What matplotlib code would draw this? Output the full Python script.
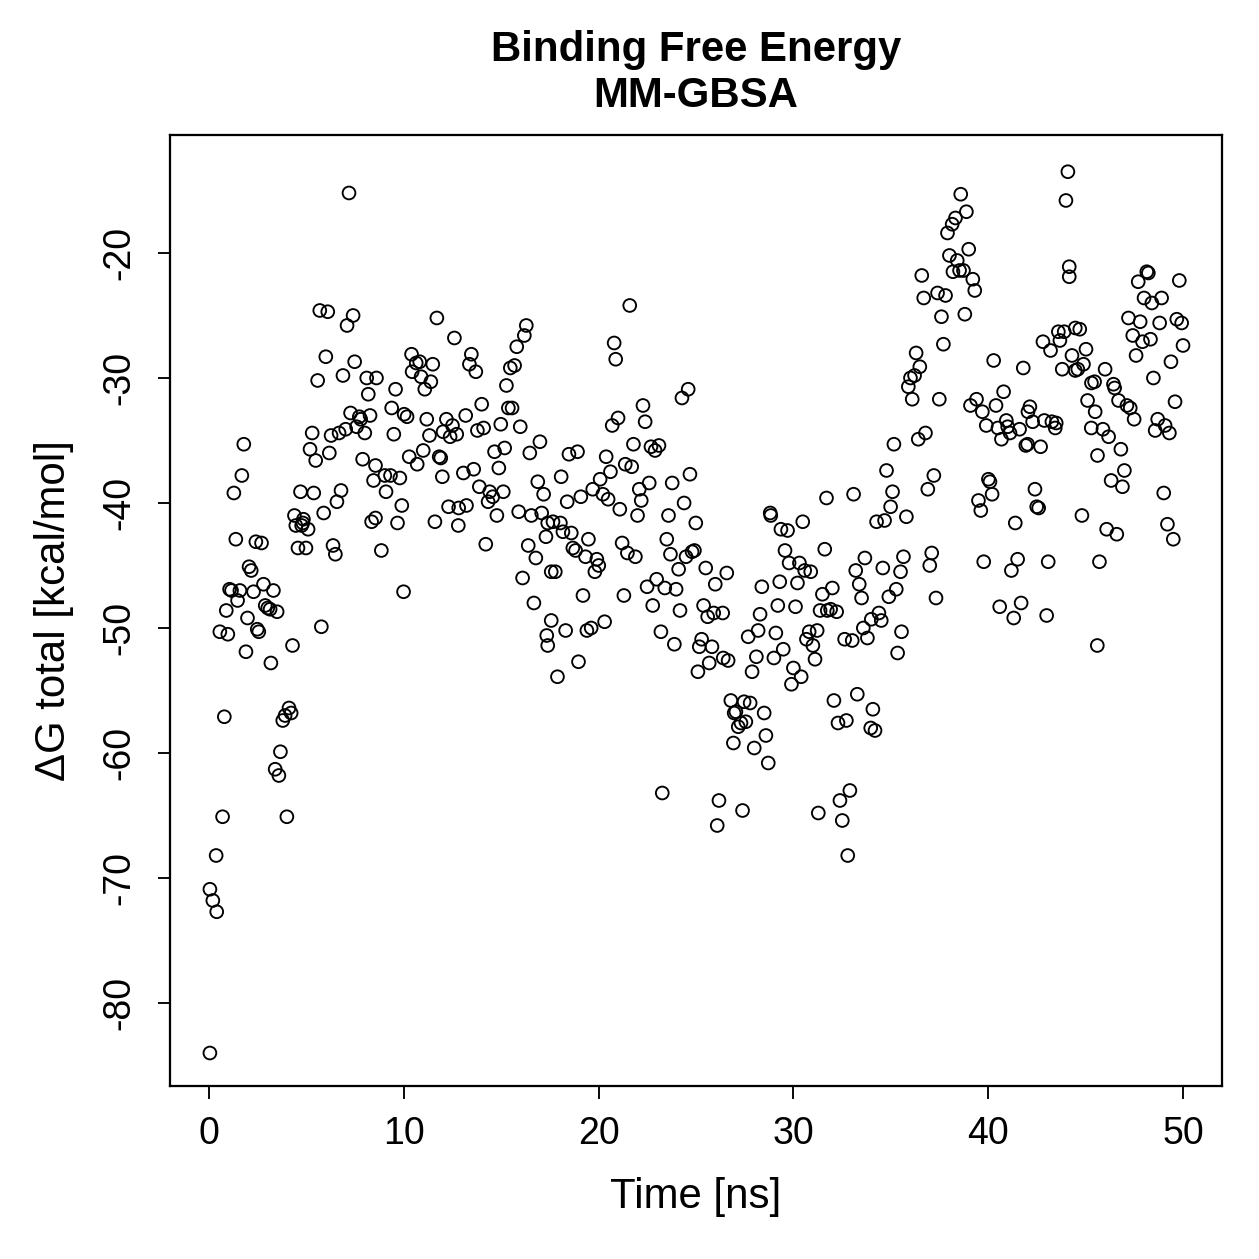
import numpy as np
import matplotlib
matplotlib.use("Agg")
import matplotlib.pyplot as plt

plt.rcParams['font.family'] = ['Liberation Sans', 'DejaVu Sans']

# data ──────────────────────────────────────────────────────────────────
time_ns = [
    0.05, 0.05, 0.2, 0.4, 0.37, 0.7, 0.79, 0.56, 0.97, 0.89, 1.06, 1.16, 1.28, 1.38, 1.47, 1.59,
    1.69, 1.79, 1.9, 1.98, 2.06, 2.17, 2.29, 2.41, 2.48, 2.56, 2.7, 2.8, 2.89, 3.02, 3.14, 3.18,
    3.31, 3.4, 3.5, 3.59, 3.67, 3.79, 3.91, 4.0, 4.11, 4.22, 4.29, 4.39, 4.46, 4.57, 4.7, 4.76,
    4.82, 4.85, 4.98, 5.09, 5.19, 5.3, 5.38, 5.48, 5.58, 5.69, 5.77, 5.89, 6.0, 6.1, 6.18, 6.27,
    6.37, 6.49, 6.57, 6.68, 6.78, 6.88, 7.02, 7.09, 7.19, 7.27, 7.4, 7.48, 7.58, 7.72, 7.79, 7.89,
    8.0, 8.1, 8.18, 8.27, 8.35, 8.45, 8.55, 8.6, 8.85, 8.55,
    9.03, 9.09, 9.32, 9.38, 9.49, 9.58, 9.68, 9.8, 9.9, 9.99, 10.02, 10.17, 10.28, 10.4, 10.43,
    10.64, 10.69, 10.82, 10.89, 11.0, 11.08, 11.18, 11.32, 11.39, 11.49, 11.6, 11.7, 11.82, 11.9,
    11.98, 12.02, 12.19, 12.3, 12.38, 12.5, 12.6, 12.72, 12.8, 12.82, 13.06, 13.18, 13.22, 13.37,
    13.47, 13.59, 13.7, 13.78, 13.88, 14.0, 14.1, 14.21, 14.33, 14.41, 14.57, 14.66, 14.78, 14.88,
    14.98, 15.11, 15.18, 15.27, 15.37, 15.47, 15.56, 15.69, 15.8, 15.9, 15.98, 16.1, 16.19, 16.29,
    16.39, 16.47, 16.55, 16.68, 16.78, 16.88, 16.99, 17.08, 17.18, 17.3, 17.34, 17.39, 17.39,
    17.57, 17.57, 17.66, 17.78, 17.89, 18.04, 18.08, 18.17, 18.31, 18.39, 18.48, 18.6, 18.68,
    18.82, 18.92, 18.97, 19.09, 19.2, 19.33, 19.4, 19.48, 19.62, 19.7, 19.81, 19.91, 20.01, 20.08,
    20.22, 20.31, 20.39, 20.49, 20.61, 20.7, 20.8, 20.88, 21.0, 21.09, 21.21, 21.3, 21.37, 21.48,
    21.6, 21.7, 21.79, 21.89, 22.0, 22.09, 22.19, 22.28, 22.39, 22.49, 22.6, 22.69, 22.78, 22.9,
    22.98, 23.1, 23.2, 23.27, 23.4, 23.5, 23.59, 23.69, 23.78, 23.89, 23.98, 24.11, 24.18, 24.28,
    24.39, 24.49, 24.6, 24.69, 24.8, 24.92, 24.99, 25.1, 25.17, 25.29, 25.39, 25.5, 25.6, 25.68,
    25.82, 25.91, 25.99, 26.09, 26.18, 26.4, 26.37, 26.65, 26.58,
    26.79, 26.92, 26.96, 27.05, 27.17, 27.31, 27.39, 27.47, 27.56, 27.68, 27.78, 27.88, 27.99,
    28.1, 28.19, 28.29, 28.38, 28.5, 28.59, 28.71, 28.81, 28.84, 29.0, 29.1, 29.2, 29.3, 29.36,
    29.48, 29.57, 29.7, 29.78, 29.9, 30.0, 30.11, 30.21, 30.31, 30.4, 30.48, 30.58, 30.67, 30.81,
    30.89, 31.0, 31.11, 31.22, 31.28, 31.37, 31.49, 31.61, 31.7, 31.74, 31.91, 32.0, 32.08, 32.22,
    32.29, 32.39, 32.51, 32.63, 32.72, 32.79, 32.9, 33.02, 33.09, 33.2, 33.28, 33.38, 33.5, 33.59,
    33.67, 33.8, 33.97, 34.0, 34.08, 34.19, 34.27, 34.39, 34.51, 34.59, 34.68, 34.78, 34.9, 34.99,
    35.09, 35.16, 35.28, 35.35, 35.55, 35.65, 35.5,
    35.8, 35.9, 36.01, 36.1, 36.22, 36.3, 36.41, 36.49, 36.59, 36.69, 36.78, 36.9, 37.0, 37.1,
    37.21, 37.32, 37.4, 37.49, 37.6, 37.7, 37.81, 37.91, 38.01, 38.15, 38.19, 38.32, 38.41, 38.53,
    38.59, 38.73, 38.8, 38.88, 39.0, 39.09, 39.21, 39.31, 39.4, 39.5, 39.62, 39.7, 39.77, 39.9,
    40.01, 40.09, 40.2, 40.28, 40.4, 40.5, 40.59, 40.68, 40.79, 40.93, 41.0, 41.12, 41.19, 41.31,
    41.39, 41.51, 41.61, 41.69, 41.8, 41.93, 42.02, 42.04, 42.14, 42.28, 42.4, 42.49, 42.59, 42.69,
    42.81, 42.88, 43.0, 43.08, 43.2, 43.27, 43.44, 43.49, 43.6, 43.68, 43.8, 43.9, 43.99, 44.09,
    44.16, 44.16, 44.3, 44.47, 44.47, 44.6, 44.7, 44.81, 44.89, 45.02, 45.1, 45.29, 45.3, 45.46,
    45.49, 45.6, 45.61, 45.71, 45.89, 46.0, 46.08, 46.18, 46.31, 46.43, 46.49, 46.6, 46.69, 46.81,
    46.89, 46.99, 47.12, 47.2, 47.29, 47.42, 47.49, 47.59, 47.7, 47.8, 47.92, 48.0, 48.14, 48.22,
    48.33, 48.4, 48.48, 48.57, 48.7, 48.8, 48.9, 49.01, 49.08, 49.2, 49.3, 49.38, 49.5, 49.59,
    49.68, 49.81, 49.93, 50.0,
]
dg_total = [
    -84.0, -70.9, -71.8, -72.7, -68.2, -65.1, -57.1, -50.3, -50.5, -48.6, -46.9, -47.0, -39.2, -42.9, -47.8, -47.0,
    -37.8, -35.3, -51.9, -49.2, -45.1, -45.4, -47.1, -43.1, -50.1, -50.3, -43.2, -46.5, -48.2, -48.4, -48.5, -52.8,
    -47.0, -61.3, -48.7, -61.8, -59.9, -57.4, -57.0, -65.1, -56.4, -56.8, -51.4, -41.0, -41.8, -43.6, -39.1, -41.8,
    -41.6, -41.3, -43.6, -42.1, -35.7, -34.4, -39.2, -36.6, -30.2, -24.6, -49.9, -40.8, -28.3, -24.7, -36.0, -34.6,
    -43.4, -44.1, -39.9, -34.4, -39.0, -29.8, -34.1, -25.8, -15.2, -32.8, -25.0, -28.7, -33.9, -33.1, -33.3, -36.5,
    -34.4, -30.0, -31.3, -33.0, -41.5, -38.2, -37.0, -30.0, -43.8, -41.2,
    -37.8, -39.1, -37.8, -32.4, -34.5, -30.9, -41.6, -38.0, -40.2, -47.1, -32.9, -33.1, -36.3, -28.1, -29.5,
    -28.8, -36.9, -28.7, -29.9, -35.8, -30.9, -33.3, -34.6, -30.3, -28.9, -41.5, -25.2, -36.3, -36.4,
    -37.9, -34.3, -33.3, -40.3, -34.7, -33.8, -26.8, -34.5, -41.8, -40.4, -37.6, -33.0, -40.2, -28.9,
    -28.1, -37.3, -29.5, -34.2, -38.7, -32.1, -34.0, -43.3, -39.9, -39.1, -39.5, -35.9, -41.0, -37.2,
    -33.7, -39.1, -35.6, -30.6, -32.4, -29.2, -32.4, -29.0, -27.5, -40.7, -33.9, -46.0, -26.6, -25.8,
    -43.4, -36.0, -41.0, -48.0, -44.4, -38.3, -35.1, -40.8, -39.3, -42.7, -50.6, -51.4, -41.6,
    -45.5, -49.4, -41.5, -45.5, -53.9, -41.6, -37.9, -42.3, -50.2, -39.9, -36.1, -42.4, -43.6,
    -43.8, -35.9, -52.7, -39.5, -47.4, -44.3, -50.2, -42.9, -50.0, -38.9, -45.5, -44.5, -45.0, -38.1,
    -39.3, -49.5, -36.3, -39.7, -37.5, -33.8, -27.2, -28.5, -33.2, -40.5, -43.2, -47.4, -36.9, -44.0,
    -24.2, -37.1, -35.3, -44.3, -41.0, -38.9, -39.8, -32.2, -33.5, -46.7, -38.4, -35.5, -48.2, -35.8,
    -46.1, -35.4, -50.3, -63.2, -46.8, -42.9, -41.0, -44.1, -38.4, -51.3, -46.9, -45.3, -48.6, -31.6,
    -40.0, -44.3, -30.9, -37.7, -43.9, -43.8, -41.6, -53.5, -51.5, -50.9, -48.2, -45.2, -49.1, -52.8,
    -51.5, -48.8, -46.5, -65.8, -63.8, -52.4, -48.8, -52.6, -45.6,
    -55.8, -59.2, -56.8, -56.7, -57.9, -57.6, -64.6, -55.9, -57.5, -50.7, -56.0, -53.5, -59.6,
    -52.3, -50.2, -48.9, -46.7, -56.8, -58.6, -60.8, -40.8, -41.0, -52.4, -50.4, -48.2, -46.3, -42.1,
    -51.7, -43.8, -42.2, -44.8, -54.5, -53.2, -48.3, -46.4, -44.8, -53.9, -41.5, -45.4, -50.9, -50.3,
    -45.5, -51.4, -52.5, -50.2, -64.8, -48.6, -47.3, -43.7, -39.6, -48.6, -48.5, -46.8, -55.8, -48.7,
    -57.6, -63.8, -65.4, -50.9, -57.4, -68.2, -63.0, -51.0, -39.3, -45.4, -55.3, -46.5, -47.6, -50.0,
    -44.4, -50.8, -58.0, -49.3, -56.5, -58.2, -41.5, -48.8, -49.4, -45.2, -41.4, -37.4, -47.5, -40.3,
    -39.1, -35.3, -46.9, -52.0, -50.3, -44.3, -45.5,
    -41.1, -30.7, -30.0, -31.7, -29.8, -28.0, -34.9, -29.1, -21.8, -23.6, -34.4, -38.9, -45.0, -44.0,
    -37.8, -47.6, -23.2, -31.7, -25.1, -27.3, -23.4, -18.4, -20.2, -17.7, -21.5, -17.2, -20.6, -21.4,
    -15.3, -21.4, -24.9, -16.7, -19.7, -32.2, -22.1, -23.0, -31.7, -39.8, -40.6, -32.7, -44.7, -33.8,
    -38.1, -38.3, -39.3, -28.6, -32.2, -34.0, -48.3, -34.9, -31.1, -33.4, -33.9, -34.4, -45.4, -49.2,
    -41.6, -44.5, -34.1, -48.0, -29.2, -35.4, -35.3, -32.7, -32.3, -33.5, -38.9, -40.3, -40.4, -35.5,
    -27.1, -33.4, -49.0, -44.7, -27.8, -33.5, -34.0, -33.6, -26.3, -27.0, -29.3, -26.3, -15.8, -13.5,
    -21.1, -21.9, -28.2, -26.0, -29.4, -29.3, -26.1, -41.0, -28.9, -27.7, -31.8, -34.0, -30.4, -30.3,
    -32.7, -51.4, -36.2, -44.7, -34.1, -29.3, -42.1, -34.7, -38.2, -30.5, -30.8, -42.5, -31.8, -35.7,
    -38.7, -37.4, -32.2, -25.2, -32.4, -26.6, -33.3, -28.2, -22.3, -25.5, -27.1, -23.6, -21.5, -21.6,
    -26.9, -24.0, -30.0, -34.2, -33.3, -25.6, -23.6, -39.2, -33.8, -41.7, -34.4, -28.7, -42.9, -31.9,
    -25.3, -22.2, -25.6, -27.4,
]

x_ticks = [0, 10, 20, 30, 40, 50]
y_ticks = [-80, -70, -60, -50, -40, -30, -20]

# ─────────────────────────────────────────────

fig = plt.figure(figsize=(1259 / 180, 1259 / 180), dpi=180)
ax = fig.add_axes([0.135, 0.1374, 0.8356, 0.7554])

ax.scatter(time_ns, dg_total, s=26, facecolors='none', edgecolors='black', linewidths=0.75)

ax.set_xlim(-2, 52)
ax.set_ylim(-86.64, -10.56)
ax.set_xticks(x_ticks)
ax.set_yticks(y_ticks)
ax.set_yticklabels([str(v) for v in y_ticks], rotation=90, va='center')
ax.tick_params(direction='out', length=5, width=0.75, labelsize=15, pad=7)
ax.tick_params(axis='y', pad=8)
for sp in ax.spines.values():
    sp.set_linewidth(0.9)

ax.set_xlabel('Time [ns]', fontsize=16.8, labelpad=10)
ax.set_ylabel('ΔG total [kcal/mol]', fontsize=16.8, labelpad=11)
ax.set_title('Binding Free Energy\nMM-GBSA', fontsize=16.8, fontweight='bold', pad=11, linespacing=1.2)

fig.savefig('out.png', dpi=180)
